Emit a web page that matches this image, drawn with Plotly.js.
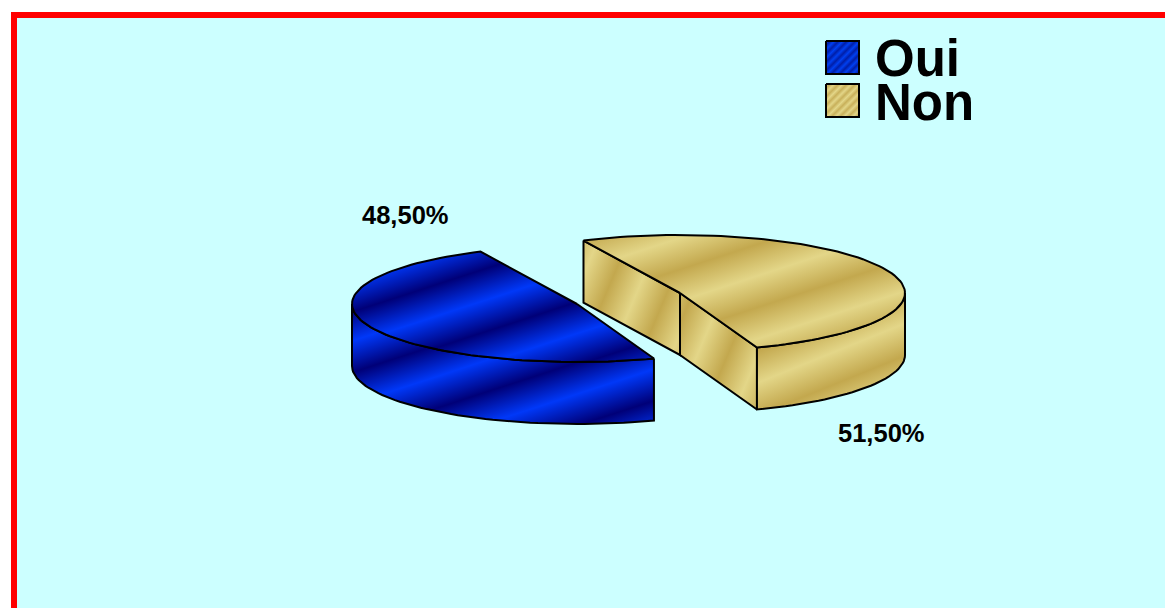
<!DOCTYPE html>
<html>
<head>
<meta charset="utf-8">
<script src="https://cdn.plot.ly/plotly-3.0.1.min.js"></script>
<style>html,body{margin:0;padding:0;background:#fff}#chart{width:1165px;height:608px}</style>
</head>
<body>
<div id="chart"></div>
<script>
// Share of answers, in percent
const categories = ['Oui', 'Non'];
const shares = [48.5, 51.5];

// Projection of the tilted disc, in axis units
const RX = 225, RY = 58, DEPTH = 62;
const START_DEG = 160;                     // clockwise from the top of the disc
const CENTRES = [{x: 577, y: 304}, {x: 680, y: 293}];

const BLUE = [[0, '#0038f8'], [0.5, '#000078'], [1, '#0038f8']];
const GOLD = [[0, '#e3d688'], [0.5, '#c3a84e'], [1, '#e3d688']];
const BLUE_FINE = [[0, '#0040f0'], [0.5, '#001ea8'], [1, '#0040f0']];
const GOLD_FINE = [[0, '#e3d688'], [0.5, '#c8b05a'], [1, '#e3d688']];

const FONT = 'Liberation Sans, Arial, sans-serif';

function rim(c, deg, drop) {
  const a = deg * Math.PI / 180;
  return [c.x + RX * Math.sin(a), c.y - RY * Math.cos(a) + (drop || 0)];
}
function arc(c, from, to, drop) {
  const pts = [], n = Math.max(2, Math.round(Math.abs(to - from) / 2));
  for (let i = 0; i <= n; i++) pts.push(rim(c, from + (to - from) * i / n, drop));
  return pts;
}

const traces = [];
const stripes = [];
function face(uid, pts, scale, anchor, angleDeg, period) {
  const closed = pts.concat([pts[0]]);
  traces.push({
    type: 'scatter', mode: 'lines', uid,
    x: closed.map(p => p[0]), y: closed.map(p => p[1]),
    fill: 'toself',
    fillgradient: {type: 'horizontal', colorscale: scale, start: 0, stop: 1},
    line: {color: '#000', width: 2},
    hoverinfo: 'skip', showlegend: false
  });
  const t = angleDeg * Math.PI / 180;
  stripes.push({uid, anchor, nx: Math.cos(t), ny: Math.sin(t), period});
}

// Slice angles follow the shares; Non wraps past the top, so it ends beyond 360
const sweep = shares.map(v => v / 100 * 360);
const ouiFrom = START_DEG, ouiTo = ouiFrom + sweep[0];
const nonFrom = ouiTo, nonTo = nonFrom + sweep[1];
const RIGHT_EXTREME = 450;

// Oui: outer wall runs from the front edge to the left extreme
const cO = CENTRES[0];
face('oui-wall', arc(cO, ouiFrom, 270).concat(arc(cO, 270, ouiFrom, DEPTH)), BLUE, [522, 412], 72, 60);
face('oui-top', [[cO.x, cO.y]].concat(arc(cO, ouiFrom, ouiTo)), BLUE, [480, 302], 72, 60);

// Non: two cut walls, the outer wall, then the top face
const cN = CENTRES[1];
const nA = rim(cN, nonFrom), nB = rim(cN, nonTo);
face('non-cut-a', [nA, [cN.x, cN.y], [cN.x, cN.y + DEPTH], [nA[0], nA[1] + DEPTH]], GOLD, [640, 285], 23, 56);
face('non-cut-b', [[cN.x, cN.y], nB, [nB[0], nB[1] + DEPTH], [cN.x, cN.y + DEPTH]], GOLD, [707, 332], 23, 56);
face('non-wall', arc(cN, RIGHT_EXTREME, nonTo).concat(arc(cN, nonTo, RIGHT_EXTREME, DEPTH)), GOLD, [802, 365], 68, 60);
face('non-top', [[cN.x, cN.y]].concat(arc(cN, nonFrom, nonTo)), GOLD, [751, 278], 72, 60);

// Legend keys
const KEY_X = 826, KEY_SIZE = 33, KEY_Y = [41, 84];
const TEXT_Y = [58, 102];
const annotations = [];
categories.forEach((name, i) => {
  const y = KEY_Y[i];
  face('key-' + name,
       [[KEY_X, y], [KEY_X + KEY_SIZE, y], [KEY_X + KEY_SIZE, y + KEY_SIZE], [KEY_X, y + KEY_SIZE]],
       i === 0 ? BLUE_FINE : GOLD_FINE, [KEY_X, y], 45, 6);
  annotations.push({
    x: 873, y: TEXT_Y[i], xref: 'x', yref: 'y', text: name, showarrow: false,
    xanchor: 'left', yanchor: 'middle', align: 'left',
    font: {family: FONT, size: 51, color: '#000', weight: 700}
  });
});

// Value labels
const LABEL_AT = [[405.5, 215], [881.5, 433]];
shares.forEach((v, i) => {
  annotations.push({
    x: LABEL_AT[i][0], y: LABEL_AT[i][1], xref: 'x', yref: 'y',
    text: v.toFixed(2).replace('.', ',') + '%', showarrow: false,
    font: {family: FONT, size: 25.5, color: '#000', weight: 700}
  });
});

const hiddenAxis = r => ({range: r, autorange: false, visible: false, fixedrange: true});
const layout = {
  width: 1165, height: 608,
  margin: {l: 0, r: 0, t: 0, b: 0},
  paper_bgcolor: '#fff', plot_bgcolor: '#fff',
  xaxis: hiddenAxis([0, 1165]),
  yaxis: hiddenAxis([608, 0]),
  showlegend: false,
  annotations,
  shapes: [{
    type: 'rect', xref: 'x', yref: 'y', layer: 'below',
    x0: 14, y0: 15, x1: 1200, y1: 650,
    fillcolor: '#ccffff', line: {color: '#ff0000', width: 6}
  }]
};

const gd = document.getElementById('chart');
Plotly.newPlot(gd, traces, layout, {displayModeBar: false, staticPlot: true}).then(() => {
  // fillgradient only runs along an axis, so tilt and repeat each gradient for the diagonal bands
  const grads = Array.from(gd.querySelectorAll('linearGradient'));
  stripes.forEach(s => {
    const g = grads.find(el => el.id.indexOf(s.uid) !== -1);
    if (!g) return;
    g.setAttribute('gradientUnits', 'userSpaceOnUse');
    g.setAttribute('spreadMethod', 'repeat');
    g.setAttribute('x1', s.anchor[0]);
    g.setAttribute('y1', s.anchor[1]);
    g.setAttribute('x2', s.anchor[0] + s.nx * s.period);
    g.setAttribute('y2', s.anchor[1] + s.ny * s.period);
  });
});
</script>
</body>
</html>
